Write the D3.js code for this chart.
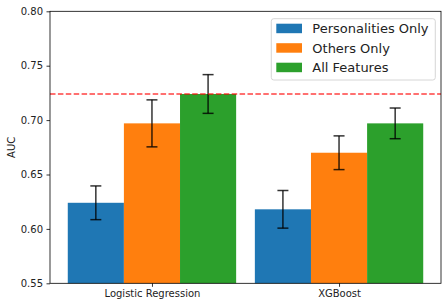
<!DOCTYPE html>
<html>
<head>
<meta charset="utf-8">
<script src="https://cdn.jsdelivr.net/npm/d3@7"></script>
<style>
  body { margin: 0; background: #fff; }
  text { font-family: "DejaVu Sans", sans-serif; fill: #222; }
</style>
</head>
<body>
<svg width="448" height="307"></svg>
<script>
// chart data
var models = ["Logistic Regression", "XGBoost"];
var seriesNames = ["Personalities Only", "Others Only", "All Features"];
var personalities = [0.624, 0.618];
var personalitiesErr = [0.0155, 0.0173];
var othersOnly = [0.697, 0.670];
var othersErr = [0.0216, 0.0155];
var allFeatures = [0.724, 0.697];
var allErr = [0.0178, 0.0141];
var baseline = 0.724;
var yTicks = [0.55, 0.60, 0.65, 0.70, 0.75, 0.80];

var colors = ["#1f77b4", "#ff7f0e", "#2ca02c"];
var values = [personalities, othersOnly, allFeatures];
var errors = [personalitiesErr, othersErr, allErr];

var svg = d3.select("svg");
var plotL = 50, plotR = 441, plotT = 11.3, plotB = 283.3;

var x = d3.scaleLinear().domain([-0.545, 1.545]).range([plotL, plotR]);
var y = d3.scaleLinear().domain([0.55, 0.80]).range([plotB, plotT]);
var barW = 0.3;

var bars = [];
values.forEach(function(vals, s) {
  vals.forEach(function(v, i) {
    bars.push({s: s, i: i, v: v, e: errors[s][i], cx: i + (s - 1) * barW});
  });
});

// bars
svg.append("g").selectAll("rect")
    .data(bars)
    .enter().append("rect")
      .attr("x", function(d) { return x(d.cx - barW / 2); })
      .attr("width", function(d) { return x(d.cx + barW / 2) - x(d.cx - barW / 2); })
      .attr("y", function(d) { return y(d.v); })
      .attr("height", function(d) { return plotB - y(d.v); })
      .attr("fill", function(d) { return colors[d.s]; });

// error bars
var eb = svg.append("g")
    .attr("stroke", "#000")
    .attr("stroke-opacity", 0.8)
    .attr("stroke-width", 1.5)
    .selectAll("g")
    .data(bars)
    .enter().append("g");
eb.append("line")
    .attr("x1", function(d) { return x(d.cx); })
    .attr("x2", function(d) { return x(d.cx); })
    .attr("y1", function(d) { return y(d.v - d.e); })
    .attr("y2", function(d) { return y(d.v + d.e); });
[-1, 1].forEach(function(sign) {
  eb.append("line")
      .attr("x1", function(d) { return x(d.cx) - 5.5; })
      .attr("x2", function(d) { return x(d.cx) + 5.5; })
      .attr("y1", function(d) { return y(d.v + sign * d.e); })
      .attr("y2", function(d) { return y(d.v + sign * d.e); });
});

// baseline
svg.append("line")
    .attr("x1", plotL).attr("x2", plotR)
    .attr("y1", y(baseline)).attr("y2", y(baseline))
    .attr("stroke", "#ff0000")
    .attr("stroke-opacity", 0.75)
    .attr("stroke-width", 1.5)
    .attr("stroke-dasharray", "5.5,2.4");

// axes
var yAxis = svg.append("g")
    .attr("transform", "translate(" + plotL + ",0)")
    .call(d3.axisLeft(y).tickValues(yTicks).tickFormat(d3.format(".2f")).tickSizeOuter(0).tickSize(3.5).tickPadding(3.5));
var xAxis = svg.append("g")
    .attr("transform", "translate(0," + plotB + ")")
    .call(d3.axisBottom(x).tickValues([0, 1]).tickFormat(function(d) { return models[d]; }).tickSizeOuter(0).tickSize(3.5).tickPadding(3.5));
[yAxis, xAxis].forEach(function(a) {
  a.select(".domain").remove();
  a.selectAll("line").attr("stroke", "#000").attr("stroke-width", 0.8);
  a.selectAll("text").attr("font-size", 10).attr("fill", "#222").style("font-family", "DejaVu Sans");
});

// frame
svg.append("rect")
    .attr("x", plotL).attr("y", plotT)
    .attr("width", plotR - plotL).attr("height", plotB - plotT)
    .attr("fill", "none").attr("stroke", "#000").attr("stroke-width", 0.8);

svg.append("text")
    .attr("transform", "translate(15," + ((plotT + plotB) / 2) + ") rotate(-90)")
    .attr("text-anchor", "middle")
    .attr("font-size", 10)
    .text("AUC");

// legend
var legend = svg.append("g").attr("transform", "translate(271.3,18.7)");
legend.append("rect")
    .attr("width", 164).attr("height", 61.3)
    .attr("rx", 2.5)
    .attr("fill", "#fff").attr("fill-opacity", 0.8)
    .attr("stroke", "#ccc").attr("stroke-width", 0.8);
var item = legend.selectAll("g.item")
    .data(seriesNames)
    .enter().append("g")
      .attr("class", "item")
      .attr("transform", function(d, i) { return "translate(0," + (i * 19.5) + ")"; });
item.append("rect")
    .attr("x", 5).attr("y", 5)
    .attr("width", 25.7).attr("height", 9.5)
    .attr("fill", function(d, i) { return colors[i]; });
item.append("text")
    .attr("x", 41).attr("y", 14.5)
    .attr("font-size", 13)
    .text(function(d) { return d; });
</script>
</body>
</html>
